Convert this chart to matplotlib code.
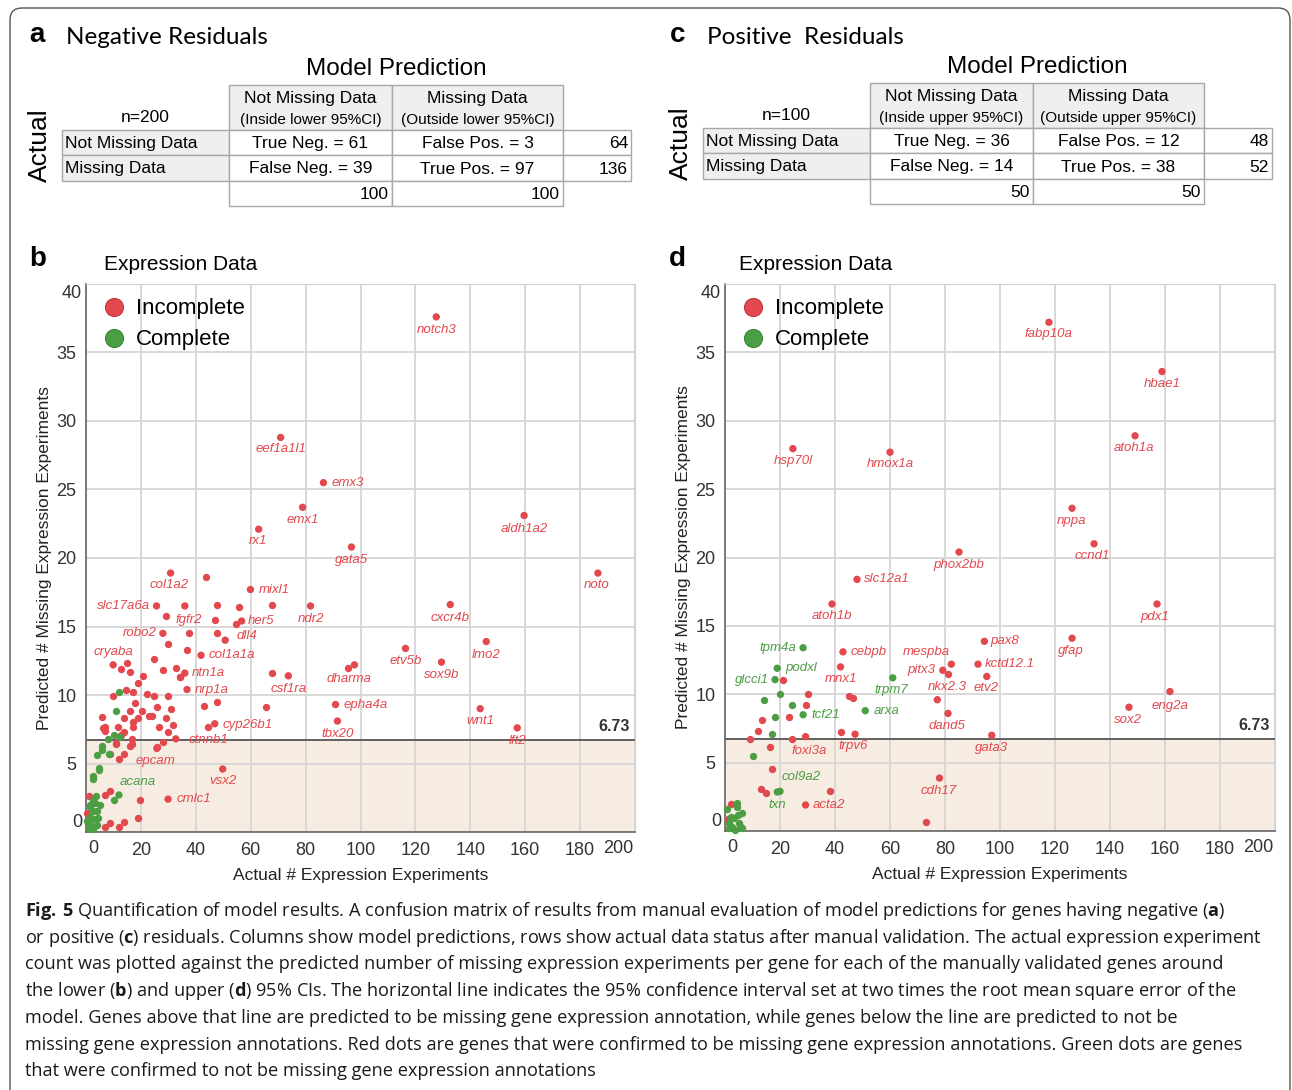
import numpy as np
import matplotlib.pyplot as plt
from matplotlib.patches import Rectangle, FancyBboxPatch
from matplotlib.lines import Line2D

plt.rcParams['font.family'] = ['Liberation Sans', 'DejaVu Sans']
plt.rcParams['mathtext.fontset'] = 'custom'
plt.rcParams['mathtext.rm'] = 'Open Sans'
plt.rcParams['mathtext.bf'] = 'Open Sans:bold'

RED = '#e2484d'
GREEN = '#4b9e43'

# ---- confusion tables ----
n_a = 200
head_sub_a = ['(Inside lower 95%CI)', '(Outside lower 95%CI)']
cells_a = [['True Neg. = 61', 'False Pos. = 3'], ['False Neg. = 39', 'True Pos. = 97']]
row_tot_a = [64, 136]
col_tot_a = [100, 100]

n_c = 100
head_sub_c = ['(Inside upper 95%CI)', '(Outside upper 95%CI)']
cells_c = [['True Neg. = 36', 'False Pos. = 12'], ['False Neg. = 14', 'True Pos. = 38']]
row_tot_c = [48, 52]
col_tot_c = [50, 50]

head_main = ['Not Missing Data', 'Missing Data']
row_names = ['Not Missing Data', 'Missing Data']

# ---- panel b: negative residuals ----
b_red_x = [43.8, 67.8, 47.8, 55.8, 29.0, 46.9, 54.8, 37.7, 47.8, 29.9, 36.8, 24.7, 14.8, 12.8,
           16.1, 28.0, 32.7, 34.2, 20.6, 18.9, 67.6, 9.9, 14.7, 17.0, 22.1, 24.8, 29.9, 17.9,
           25.8, 20.5, 16.0, 23.0, 24.2, 29.0, 18.8, 13.9, 5.9, 6.8, 6.8, 11.5, 17.2, 17.2,
           26.7, 31.8, 29.8, 13.8, 12.8, 16.8, 28.0, 16.8, 15.9, 10.9, 42.9, 47.8, 65.7, 44.6,
           30.8, 8.7, 13.8, 11.9, 1.1, 6.8, 8.7, 19.8, 18.8, 13.7, 8.7, 11.9, 6.8, 0.5, 95.3,
           34.1, 10.8, 25.7, 6.2]
b_red_y = [18.6, 16.6, 16.6, 16.45, 15.8, 15.5, 15.2, 14.5, 14.55, 13.7, 13.3, 12.6, 12.3, 11.9,
           11.7, 11.85, 12.0, 11.3, 11.4, 10.9, 11.6, 9.9, 10.4, 10.2, 10.1, 9.9, 9.9, 9.4,
           9.15, 8.8, 8.8, 8.5, 8.5, 8.3, 8.3, 8.3, 8.4, 7.7, 7.4, 7.7, 8.0, 7.7,
           7.7, 7.8, 7.3, 7.3, 7.1, 6.8, 6.6, 6.4, 6.3, 6.4, 9.2, 9.5, 9.1, 7.7,
           9.0, 5.7, 5.7, 5.3, 2.6, 2.7, 3.0, 2.3, 1.0, 0.7, 0.65, 0.4, 0.4, 1.4, 12.0,
           11.3, 6.5, 6.2, 7.6]
b_green_x = [11.9, 10.9, 10.2, 12.4, 8.0, 5.9, 5.9, 4.1, 4.8, 4.8, 2.7, 2.7, 3.6, 2.7, 1.5, 10.2,
             3.3, 5.1, 1.5, 2.4, 4.0, 1.3, 3.3, 1.5, 3.9, 1.0, 2.4, 0.5, 4.5, 8.3]
b_green_y = [10.2, 8.8, 7.1, 6.9, 6.8, 6.3, 6.0, 5.6, 4.7, 4.5, 4.1, 3.9, 2.6, 2.3, 2.0, 2.3,
             2.1, 2.0, 1.85, 1.5, 1.5, 1.1, 0.95, 0.6, 0.5, 0.3, 0.2, 0.8, 1.0, 5.7]
b_genes = ['notch3', 'eef1a1l1', 'emx3', 'emx1', 'aldh1a2', 'rx1', 'gata5', 'noto', 'col1a2',
           'mixl1', 'cxcr4b', 'ndr2', 'slc17a6a', 'fgfr2', 'her5', 'robo2', 'dll4', 'cryaba',
           'col1a1a', 'etv5b', 'lmo2', 'ntn1a', 'sox9b', 'csf1ra', 'dharma', 'nrp1a', 'epha4a',
           'wnt1', 'cyp26b1', 'tbx20', 'lft2', 'ctnnb1', 'epcam', 'acana', 'vsx2', 'cmlc1']
b_gene_x = [127.6, 70.9, 86.5, 78.9, 159.6, 62.9, 96.7, 186.5, 30.8, 59.9, 132.7, 81.8, 25.7,
            36.0, 56.7, 28.0, 50.7, 9.9, 41.9, 116.4, 145.8, 36.0, 129.5, 73.7, 97.8, 36.8,
            90.9, 143.6, 46.9, 91.6, 157.1, 32.7, 25.8, 12.0, 49.8, 29.9]
b_gene_y = [37.6, 28.8, 25.5, 23.7, 23.1, 22.1, 20.8, 18.9, 18.9, 17.7, 16.6, 16.5, 16.5,
            16.5, 15.4, 14.5, 14.0, 12.2, 12.9, 13.4, 13.9, 11.6, 12.4, 11.4, 12.2, 10.4,
            9.3, 9.0, 7.9, 8.1, 7.6, 6.8, 6.1, 2.7, 4.6, 2.4]
b_gene_ok = ['acana']  # confirmed complete

# ---- panel d: positive residuals ----
d_red_x = [21.1, 30.3, 45.0, 46.7, 29.3, 23.4, 13.3, 12.1, 42.2, 9.1, 24.2, 16.4, 17.2, 13.0,
           15.0, 38.2, 2.1, 73.1, 81.1, 1.0]
d_red_y = [11.07, 10.05, 9.9, 9.7, 9.2, 8.35, 8.15, 7.3, 7.25, 6.74, 6.74, 6.15, 4.5, 3.04,
           2.75, 2.94, 2.0, 0.63, 11.5, 0.9]
d_green_x = [20.0, 14.2, 24.2, 18.2, 17.2, 10.3, 4.2, 4.3, 6.3, 2.1, 3.3, 1.5, 5.1, 2.5, 5.6,
             1.5, 3.8, 6.3, 0.8, 4.8]
d_green_y = [10.05, 9.6, 9.2, 8.35, 7.06, 5.5, 2.07, 1.77, 1.34, 1.04, 0.92, 0.6, 0.55, 0.3,
             0.35, 0.2, 0.05, 0.2, 1.6, 1.2]
d_genes = ['fabp10a', 'hbae1', 'atoh1a', 'hsp70l', 'hmox1a', 'nppa', 'ccnd1', 'phox2bb',
           'slc12a1', 'atoh1b', 'pdx1', 'gfap', 'eng2a', 'sox2', 'pax8', 'kctd12.1', 'etv2',
           'nkx2.3', 'dand5', 'gata3', 'cdh17', 'mespba', 'pitx3', 'cebpb', 'mnx1', 'trpm7',
           'arxa', 'trpv6', 'foxi3a', 'tcf21', 'podxl', 'glcci1', 'tpm4a', 'col9a2', 'txn', 'acta2']
d_gene_x = [117.8, 158.9, 149.1, 24.7, 60.0, 126.2, 134.2, 85.1, 48.0, 38.9, 157.1, 126.2,
            161.8, 146.9, 94.3, 92.0, 95.2, 77.2, 81.1, 97.0, 78.0, 82.3, 79.2, 42.9, 42.0,
            61.0, 51.0, 47.3, 29.3, 28.4, 19.0, 18.2, 28.4, 20.0, 19.0, 29.3]
d_gene_y = [37.2, 33.6, 28.9, 27.96, 27.7, 23.6, 21.0, 20.4, 18.4, 16.6, 16.6, 14.1, 10.2,
            9.05, 13.87, 12.2, 11.3, 9.6, 8.6, 7.0, 3.87, 12.2, 11.75, 13.1, 12.0, 11.2, 8.8,
            7.08, 6.9, 8.5, 11.9, 11.07, 13.4, 2.9, 2.85, 1.9]
d_gene_ok = ['trpm7', 'arxa', 'tcf21', 'podxl', 'glcci1', 'tpm4a', 'col9a2', 'txn']

threshold = 6.73

# label placement (pixel offsets from the dot, image y downwards)
off_b = {'notch3': (0, 13, 'center'), 'eef1a1l1': (0, 12, 'center'), 'emx3': (8, 0, 'left'),
         'emx1': (0, 13, 'center'), 'aldh1a2': (0, 13, 'center'), 'rx1': (-1, 12, 'center'),
         'gata5': (0, 13, 'center'), 'noto': (-1, 12, 'center'), 'col1a2': (-1, 12, 'center'),
         'mixl1': (8, 0, 'left'), 'cxcr4b': (0, 13, 'center'), 'ndr2': (0, 13, 'center'),
         'slc17a6a': (-6, 0, 'right'), 'fgfr2': (4, 14, 'center'), 'her5': (6, 0, 'left'),
         'robo2': (-6, 0, 'right'), 'dll4': (11, -4, 'left'), 'cryaba': (0, -13, 'center'),
         'col1a1a': (8, 0, 'left'), 'etv5b': (0, 13, 'center'), 'lmo2': (0, 13, 'center'),
         'ntn1a': (7, 0, 'left'), 'sox9b': (0, 13, 'center'), 'csf1ra': (0, 13, 'center'),
         'dharma': (-5, 14, 'center'), 'nrp1a': (8, 0, 'left'), 'epha4a': (8, 0, 'left'),
         'wnt1': (0, 12, 'center'), 'cyp26b1': (8, 1, 'left'), 'tbx20': (0, 13, 'center'),
         'lft2': (0, 13, 'center'), 'ctnnb1': (13, 1, 'left'), 'epcam': (-1, 13, 'center'),
         'acana': (19, -13, 'center'), 'vsx2': (0, 12, 'center'), 'cmlc1': (8, 0, 'left')}
off_d = {'fabp10a': (0, 12, 'center'), 'hbae1': (0, 12, 'center'), 'atoh1a': (-1, 12, 'center'),
         'hsp70l': (0, 12, 'center'), 'hmox1a': (0, 12, 'center'), 'nppa': (-1, 13, 'center'),
         'ccnd1': (-2, 12, 'center'), 'phox2bb': (0, 13, 'center'), 'slc12a1': (7, 0, 'left'),
         'atoh1b': (0, 12, 'center'), 'pdx1': (-2, 13, 'center'), 'gfap': (-1, 13, 'center'),
         'eng2a': (0, 14, 'center'), 'sox2': (-1, 13, 'center'), 'pax8': (6, 0, 'left'),
         'kctd12.1': (7, 0, 'left'), 'etv2': (-1, 12, 'center'), 'nkx2.3': (10, -13, 'center'),
         'dand5': (-1, 13, 'center'), 'gata3': (0, 13, 'center'), 'cdh17': (-1, 13, 'center'),
         'mespba': (-25, -12, 'center'), 'pitx3': (-7, 0, 'right'), 'cebpb': (8, 0, 'left'),
         'mnx1': (0, 12, 'center'), 'trpm7': (-1, 12, 'center'), 'arxa': (8, 0, 'left'),
         'trpv6': (-2, 12, 'center'), 'foxi3a': (4, 14, 'center'), 'tcf21': (8, 0, 'left'),
         'podxl': (8, 0, 'left'), 'glcci1': (-6, 0, 'right'), 'tpm4a': (-7, 0, 'right'),
         'col9a2': (21, -14, 'center'), 'txn': (0, 13, 'center'), 'acta2': (7, 0, 'left')}

caption = [
    r'$\mathbf{Fig.\,5}$ Quantification of model results. A confusion matrix of results from manual evaluation of model predictions for genes having negative ($\mathbf{a}$)',
    r'or positive ($\mathbf{c}$) residuals. Columns show model predictions, rows show actual data status after manual validation. The actual expression experiment',
    'count was plotted against the predicted number of missing expression experiments per gene for each of the manually validated genes around',
    r'the lower ($\mathbf{b}$) and upper ($\mathbf{d}$) 95% CIs. The horizontal line indicates the 95% confidence interval set at two times the root mean square error of the',
    'model. Genes above that line are predicted to be missing gene expression annotation, while genes below the line are predicted to not be',
    'missing gene expression annotations. Red dots are genes that were confirmed to be missing gene expression annotations. Green dots are genes',
    'that were confirmed to not be missing gene expression annotations',
]

W, H = 1292, 1090
fig = plt.figure(figsize=(W / 100, H / 100), dpi=100)
bg = fig.add_axes([0, 0, 1, 1])
bg.set_xlim(0, W)
bg.set_ylim(H, 0)
bg.axis('off')

bg.add_patch(FancyBboxPatch((10, 8), 1280, 1100, boxstyle='round,pad=0,rounding_size=12',
                            fc='none', ec='#555555', lw=1.0))

GRAYF = '#efefef'
EDGE = '#a8a8a8'


def draw_table(dx, dy, n, subs, cells, rtot, ctot, title, letter):
    xl, x1, x2, x3, x4 = 62 + dx, 229 + dx, 392 + dx, 563 + dx, 631 + dx
    yh, yr1, yr2, yr3, yb = 85 + dy, 130 + dy, 155 + dy, 181 + dy, 206 + dy
    kw = dict(ec=EDGE, lw=1.0)
    # header
    bg.add_patch(Rectangle((x1, yh), x2 - x1, yr1 - yh, fc=GRAYF, **kw))
    bg.add_patch(Rectangle((x2, yh), x3 - x2, yr1 - yh, fc=GRAYF, **kw))
    for (a, b), h, s in zip([(x1, x2), (x2, x3)], head_main, subs):
        bg.text((a + b) / 2, yh + 13, h, ha='center', va='center', fontsize=12.5)
        bg.text((a + b) / 2, yh + 35, s, ha='center', va='center', fontsize=11)
    # rows
    for i, (ya, yb_) in enumerate([(yr1, yr2), (yr2, yr3)]):
        bg.add_patch(Rectangle((xl, ya), x1 - xl, yb_ - ya, fc=GRAYF, **kw))
        bg.text(xl + 3, (ya + yb_) / 2 + 1, row_names[i], ha='left', va='center', fontsize=12.5)
        for j, (a, b) in enumerate([(x1, x2), (x2, x3)]):
            bg.add_patch(Rectangle((a, ya), b - a, yb_ - ya, fc='white', **kw))
            bg.text((a + b) / 2, (ya + yb_) / 2 + 1, cells[i][j], ha='center', va='center', fontsize=12.5)
        bg.add_patch(Rectangle((x3, ya), x4 - x3, yb_ - ya, fc='white', **kw))
        bg.text(x4 - 3, (ya + yb_) / 2 + 1, str(rtot[i]), ha='right', va='center', fontsize=12.5)
    for j, (a, b) in enumerate([(x1, x2), (x2, x3)]):
        bg.add_patch(Rectangle((a, yr3), b - a, yb - yr3, fc='white', **kw))
        bg.text(b - 3, (yr3 + yb) / 2 + 1, str(ctot[j]), ha='right', va='center', fontsize=12.5)
    bg.text(145 + dx, 118 + dy, 'n=%d' % n, ha='center', va='center', fontsize=12.5)
    bg.text(40 + dx, 145 + dy, 'Actual', rotation=90, ha='center', va='center', fontsize=19)
    bg.text(396 + dx, 69 + dy, 'Model Prediction', ha='center', va='center', fontsize=17.5)
    bg.text(37 + dx, 35, letter, ha='center', va='center', fontsize=20, fontweight='bold')
    bg.text(66 + dx, 37, title, ha='left', va='center', fontsize=17.5, family=['Lato', 'DejaVu Sans'])


draw_table(0, 0, n_a, head_sub_a, cells_a, row_tot_a, col_tot_a, 'Negative Residuals', 'a')
draw_table(641, -2, n_c, head_sub_c, cells_c, row_tot_c, col_tot_c, 'Positive  Residuals', 'c')


def scatter_panel(rect, letter, lx, redx, redy, grx, gry, genes, gx, gy, ok, offs):
    ax = fig.add_axes(rect)
    ax.set_xlim(0, 200)
    ax.set_ylim(0, 40)
    ax.axhspan(0, threshold, color='#f6ece1', zorder=0)
    ax.axhline(threshold, color='#555555', lw=1.3, zorder=1)
    ax.set_xticks(np.arange(0, 201, 20))
    ax.set_yticks(np.arange(0, 41, 5))
    ax.set_xticklabels([''] + [str(v) for v in range(20, 181, 20)] + [''])
    ax.set_yticklabels([''] + [str(v) for v in range(5, 36, 5)] + [''])
    ax.grid(True, color='#d6d6d6', lw=1.3, zorder=0)
    ax.set_axisbelow(True)
    ax.tick_params(length=0, labelsize=13, colors='#333333', pad=7)
    for s in ['top', 'right']:
        ax.spines[s].set_color('#cfcfcf')
    for s in ['left', 'bottom']:
        ax.spines[s].set_color('#666666')
        ax.spines[s].set_linewidth(1.2)
    ax.text(2.6, -0.55, '0', ha='center', va='top', fontsize=13, color='#333333')
    ax.text(194, -0.55, '200', ha='center', va='top', fontsize=13, color='#333333')
    ax.text(-1.5, 0.7, '0', ha='right', va='center', fontsize=13, color='#333333')
    ax.text(-1.5, 39.3, '40', ha='right', va='center', fontsize=13, color='#333333')

    ax.scatter(redx, redy, s=28, color=RED, lw=0, zorder=3, clip_on=False)
    ax.scatter(grx, gry, s=28, color=GREEN, lw=0, zorder=3, clip_on=False)
    cols = [GREEN if g in ok else RED for g in genes]
    ax.scatter(gx, gy, s=28, c=cols, lw=0, zorder=3)
    for g, x, y, c in zip(genes, gx, gy, cols):
        ddx, ddy, ha = offs[g]
        ax.annotate(g, (x, y), xytext=(ddx * 0.72, -ddy * 0.72), textcoords='offset points',
                    ha=ha, va='center', fontsize=9.5, style='italic', color=c, zorder=4)
    ax.text(198, threshold + 0.4, '%.2f' % threshold, ha='right', va='bottom',
            fontsize=11.5, fontweight='bold', color='#333333')

    hs = [Line2D([], [], ls='', marker='o', ms=13, mfc=RED, mec='#c03a3e', mew=0.8),
          Line2D([], [], ls='', marker='o', ms=13, mfc=GREEN, mec='#3a8a35', mew=0.8)]
    ax.legend(hs, ['Incomplete', 'Complete'], loc='upper left', bbox_to_anchor=(0.0, 1.0),
              frameon=False, fontsize=16, handlelength=1.2, handletextpad=0.4,
              labelspacing=0.45, borderaxespad=0.25)

    ax.set_xlabel('Actual # Expression Experiments', fontsize=12.5, color='#222222')
    ax.set_ylabel('Predicted # Missing Expression Experiments', fontsize=12.5, color='#222222')
    ax.xaxis.set_label_coords(0.5, -0.066)
    ax.yaxis.set_label_coords(-0.062, 0.5)
    px0 = rect[0] * W
    bg.text(px0 - 48, 259, letter, ha='center', va='center', fontsize=20, fontweight='bold')
    bg.text(lx, 265, 'Expression Data', ha='left', va='center', fontsize=15)
    return ax


scatter_panel([86 / W, (H - 832) / H, 549 / W, 548 / H], 'b', 104,
              b_red_x, b_red_y, b_green_x, b_green_y, b_genes, b_gene_x, b_gene_y, b_gene_ok, off_b)
scatter_panel([725 / W, (H - 831) / H, 550 / W, 547 / H], 'd', 739,
              d_red_x, d_red_y, d_green_x, d_green_y, d_genes, d_gene_x, d_gene_y, d_gene_ok, off_d)

for i, line in enumerate(caption):
    bg.text(25, 911 + i * 26.7, line, ha='left', va='center', fontsize=13.1,
            family=['Open Sans', 'DejaVu Sans'], color='#1a1a1a')

fig.savefig('out.png', dpi=100)
